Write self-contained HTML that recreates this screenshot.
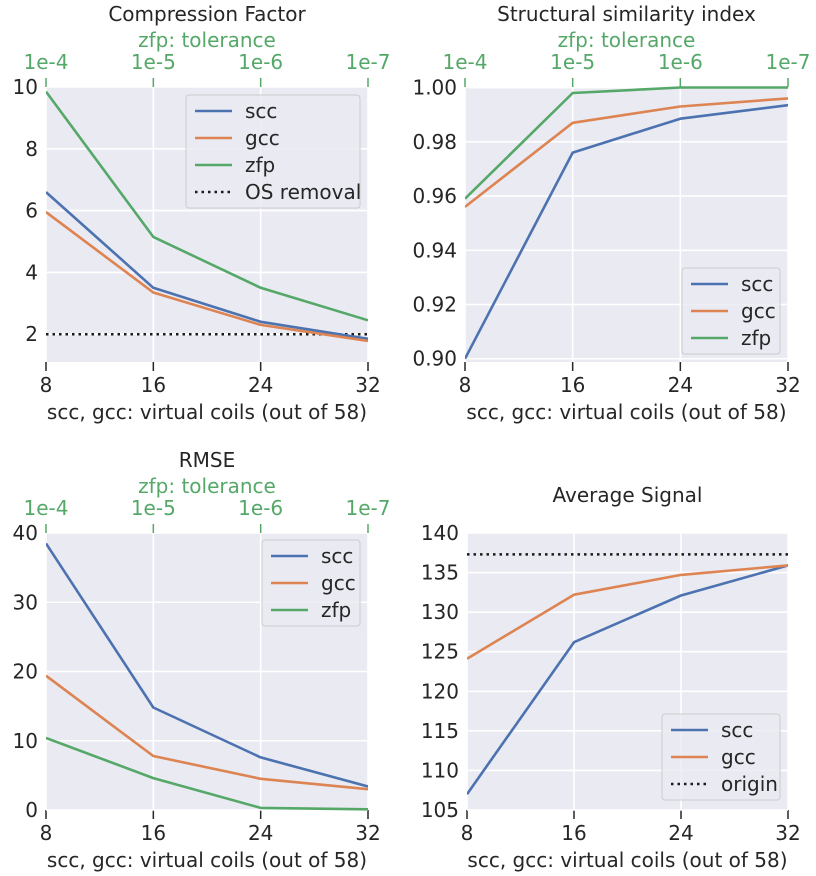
<!DOCTYPE html>
<html><head><meta charset="utf-8">
<style>
body{margin:0;background:#fff;}
svg{display:block;font-family:"DejaVu Sans","Liberation Sans",sans-serif;}
</style></head>
<body>
<svg id="fig" width="816" height="876" viewBox="0 0 816 876" xmlns="http://www.w3.org/2000/svg"></svg>
<script>
const xCats = [8, 16, 24, 32];
const zfpTicks = ['1e-4', '1e-5', '1e-6', '1e-7'];
// Compression factor
const cfScc = [6.6, 3.5, 2.4, 1.85];
const cfGcc = [5.95, 3.35, 2.3, 1.78];
const cfZfp = [9.85, 5.15, 3.5, 2.45];
const cfOs = 2;
const cfTicks = [2, 4, 6, 8, 10];
// SSIM
const ssScc = [0.900, 0.976, 0.9885, 0.9935];
const ssGcc = [0.956, 0.987, 0.993, 0.996];
const ssZfp = [0.959, 0.998, 1.0, 1.0];
const ssTicks = [0.90, 0.92, 0.94, 0.96, 0.98, 1.00];
// RMSE
const rmScc = [38.5, 14.8, 7.6, 3.4];
const rmGcc = [19.4, 7.8, 4.5, 3.0];
const rmZfp = [10.4, 4.6, 0.3, 0.1];
const rmTicks = [0, 10, 20, 30, 40];
// Average signal
const avScc = [107, 126.2, 132.1, 135.9];
const avGcc = [124.1, 132.2, 134.7, 135.9];
const avOrigin = 137.3;
const avTicks = [105, 110, 115, 120, 125, 130, 135, 140];

const NS = 'http://www.w3.org/2000/svg';
const svg = document.getElementById('fig');
const BLUE = '#4c72b0', ORANGE = '#dd8452', GREEN = '#55a868';
const FS = 20;
function mk(tag, attrs, parent) {
  const e = document.createElementNS(NS, tag);
  for (const k in attrs) e.setAttribute(k, attrs[k]);
  (parent || svg).appendChild(e);
  return e;
}
function txt(s, x, y, opts, parent) {
  const t = mk('text', Object.assign({x: x, y: y, 'font-size': FS, fill: '#262626', 'text-anchor': 'middle'}, opts || {}), parent);
  t.textContent = s;
  return t;
}

function panel(cfg) {
  const g = mk('g', {});
  
  
  const L = cfg.left, R = cfg.right, T = cfg.top, B = cfg.bottom;
  const xs = v => L + (v - 8) / 24 * (R - L);
  const ys = v => B - (v - cfg.ymin) / (cfg.ymax - cfg.ymin) * (B - T);
  const bg = mk('rect', {x: L, y: T, width: R - L, height: B - T, fill: '#eaeaf2'}, g);
  
  
  xCats.forEach(c => {
    const gl = mk('line', {x1: xs(c), x2: xs(c), y1: T, y2: B, stroke: '#fff', 'stroke-width': 1.6}, g);
    
    
    mk('line', {x1: xs(c), x2: xs(c), y1: B, y2: B + 9, stroke: '#262626', 'stroke-width': 1.5}, g);
    const tl = txt(String(c), xs(c), B + 30, {}, g);
    
    
  });
  cfg.ticks.forEach(v => {
    const y = ys(v);
    const gl = mk('line', {x1: L, x2: R, y1: y, y2: y, stroke: '#fff', 'stroke-width': 1.6}, g);
    
    
    const tl = txt(cfg.fmt(v), L - 8, y + 7, {'text-anchor': 'end'}, g);
    
    
  });
  if (cfg.topAxis) {
    xCats.forEach((c, i) => {
      mk('line', {x1: xs(c), x2: xs(c), y1: T - 9, y2: T, stroke: GREEN, 'stroke-width': 1.5}, g);
      const tl = txt(zfpTicks[i], xs(c), T - 18, {fill: GREEN}, g);
      
      
    });
    const tt = txt('zfp: tolerance', (L + R) / 2, T - 40, {fill: GREEN}, g);
    
    
  }
  const ti = txt(cfg.title, (L + R) / 2, cfg.titleY, {'font-size': 20}, g);
  
  
  const xl = txt('scc, gcc: virtual coils (out of 58)', (L + R) / 2, B + 57, {}, g);
  
  

  const clip = 'clip-' + cfg.name;
  const cp = mk('clipPath', {id: clip}, g);
  mk('rect', {x: L, y: T - 2, width: R - L, height: B - T + 4}, cp);
  const lg = mk('g', {'clip-path': 'url(#' + clip + ')'}, g);
  cfg.hlines.forEach(h => {
    const hl = mk('line', {x1: L, x2: R, y1: ys(h.v), y2: ys(h.v), stroke: '#1a1a1a', 'stroke-width': 2.5, 'stroke-dasharray': '2.5,4'}, lg);
    
    
  });
  cfg.series.forEach(s => {
    const pts = s.vals.map((v, i) => xs(xCats[i]).toFixed(1) + ',' + ys(v).toFixed(1)).join(' ');
    const pl = mk('polyline', {points: pts, fill: 'none', stroke: s.color, 'stroke-width': 2.6, 'stroke-linejoin': 'round'}, lg);
    
    
  });
  const lgd = cfg.legend;
  const leg = mk('g', {}, g);
  
  
  mk('rect', {x: lgd.x, y: lgd.y, width: lgd.w, height: lgd.items.length * 27 + 5, rx: 3, fill: '#eaeaf2', stroke: '#cccccc', 'stroke-width': 1, 'fill-opacity': 0.8}, leg);
  lgd.items.forEach((it, i) => {
    const y = lgd.y + 16 + i * 27;
    const e = mk('g', {}, leg);
    
    
    if (it.dot) mk('line', {x1: lgd.x + 9, x2: lgd.x + 46, y1: y, y2: y, stroke: '#1a1a1a', 'stroke-width': 2.5, 'stroke-dasharray': '2.5,4'}, e);
    else mk('line', {x1: lgd.x + 9, x2: lgd.x + 46, y1: y, y2: y, stroke: it.color, 'stroke-width': 2.6}, e);
    txt(it.label, lgd.x + 59, y + 7, {'text-anchor': 'start'}, e);
  });
}

const f0 = v => String(v), f2 = v => v.toFixed(2);
panel({name: 'compression-factor-panel', title: 'Compression Factor', titleY: 21, topAxis: true,
  left: 46, right: 368, top: 87, bottom: 362, ymin: 1.1, ymax: 10.0, ticks: cfTicks, fmt: f0,
  series: [{name: 'scc-line', vals: cfScc, color: BLUE}, {name: 'gcc-line', vals: cfGcc, color: ORANGE}, {name: 'zfp-line', vals: cfZfp, color: GREEN}],
  hlines: [{name: 'os-removal-line', v: cfOs}],
  legend: {x: 186, y: 95, w: 174, items: [{label: 'scc', color: BLUE}, {label: 'gcc', color: ORANGE}, {label: 'zfp', color: GREEN}, {label: 'OS removal', dot: true}]}});
panel({name: 'ssim-panel', title: 'Structural similarity index', titleY: 21, topAxis: true,
  left: 465, right: 788, top: 87, bottom: 362, ymin: 0.8988, ymax: 1.0002, ticks: ssTicks, fmt: f2,
  series: [{name: 'scc-line', vals: ssScc, color: BLUE}, {name: 'gcc-line', vals: ssGcc, color: ORANGE}, {name: 'zfp-line', vals: ssZfp, color: GREEN}],
  hlines: [],
  legend: {x: 682, y: 268, w: 98, items: [{label: 'scc', color: BLUE}, {label: 'gcc', color: ORANGE}, {label: 'zfp', color: GREEN}]}});
panel({name: 'rmse-panel', title: 'RMSE', titleY: 467, topAxis: true,
  left: 46, right: 368, top: 533, bottom: 810, ymin: 0, ymax: 40, ticks: rmTicks, fmt: f0,
  series: [{name: 'scc-line', vals: rmScc, color: BLUE}, {name: 'gcc-line', vals: rmGcc, color: ORANGE}, {name: 'zfp-line', vals: rmZfp, color: GREEN}],
  hlines: [],
  legend: {x: 262, y: 540, w: 98, items: [{label: 'scc', color: BLUE}, {label: 'gcc', color: ORANGE}, {label: 'zfp', color: GREEN}]}});
panel({name: 'average-signal-panel', title: 'Average Signal', titleY: 502, topAxis: false,
  left: 467, right: 788, top: 533, bottom: 810, ymin: 105, ymax: 140, ticks: avTicks, fmt: f0,
  series: [{name: 'scc-line', vals: avScc, color: BLUE}, {name: 'gcc-line', vals: avGcc, color: ORANGE}],
  hlines: [{name: 'origin-line', v: avOrigin}],
  legend: {x: 662, y: 714, w: 118, items: [{label: 'scc', color: BLUE}, {label: 'gcc', color: ORANGE}, {label: 'origin', dot: true}]}});
</script>
</body></html>
